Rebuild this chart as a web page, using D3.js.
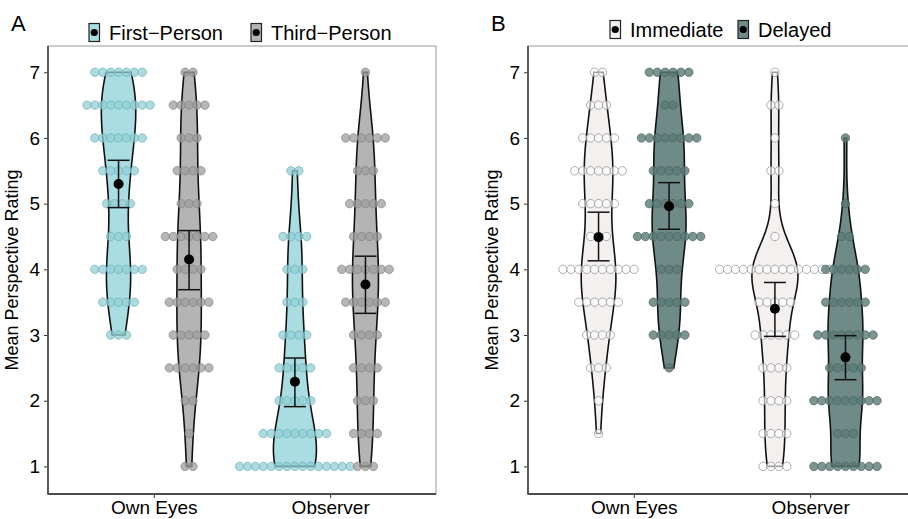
<!DOCTYPE html>
<html>
<head>
<meta charset="utf-8">
<script src="https://cdn.jsdelivr.net/npm/d3@7"></script>
<style>
  body { margin: 0; background: #fff; }
  text { font-family: "Liberation Sans", Arial, Helvetica, sans-serif; fill: #000; }
</style>
</head>
<body>
<svg id="chart" width="908" height="519"></svg>
<script>
// rating levels shared by every group (counts below are per level)
var ratingLevels = [1, 1.5, 2, 2.5, 3, 3.5, 4, 4.5, 5, 5.5, 6, 6.5, 7];
var conditions = ["Own Eyes", "Observer"];
var yTicks = [1, 2, 3, 4, 5, 6, 7];

// panel A : First-Person vs Third-Person
var firstOwnCounts  = [0, 0, 0, 0, 3, 5, 7, 3, 4, 5, 7, 9, 7];
var firstObsCounts  = [15, 9, 5, 5, 4, 3, 3, 4, 0, 2, 0, 0, 0];
var thirdOwnCounts  = [2, 1, 2, 6, 5, 6, 4, 7, 3, 4, 3, 5, 2];
var thirdObsCounts  = [3, 4, 3, 4, 4, 6, 7, 4, 5, 3, 6, 0, 1];
var firstCI = [[4.94, 5.66], [1.91, 2.65]];
var thirdCI = [[3.69, 4.59], [3.33, 4.20]];

// panel B : Immediate vs Delayed
var immOwnCounts = [0, 1, 1, 3, 4, 6, 10, 3, 5, 7, 5, 3, 2];
var immObsCounts = [4, 4, 4, 4, 6, 5, 15, 1, 1, 2, 1, 2, 1];
var delOwnCounts = [0, 0, 0, 1, 5, 5, 3, 9, 6, 5, 8, 2, 6];
var delObsCounts = [9, 3, 9, 5, 8, 6, 6, 2, 1, 0, 1, 0, 0];
var immCI = [[4.13, 4.87], [2.98, 3.80]];
var delCI = [[4.61, 5.32], [2.32, 2.99]];

var svg = d3.select("#chart");

function expand(counts) {
  var v = [];
  counts.forEach(function(c, i) {
    for (var k = 0; k < c; k++) v.push(ratingLevels[i]);
  });
  return v;
}

// gaussian kde, bandwidth like R's nrd0 (times adjust), trimmed to data range
function kde(values, adjust) {
  var s = values.slice().sort(d3.ascending);
  var n = s.length;
  var sd = d3.deviation(s);
  var iqr = d3.quantile(s, 0.75) - d3.quantile(s, 0.25);
  var bw = adjust * 0.9 * Math.min(sd, iqr / 1.34) * Math.pow(n, -0.2);
  var lo = s[0], hi = s[n - 1];
  return d3.range(512).map(function(i) {
    var y = lo + (hi - lo) * i / 511;
    var d = d3.mean(s, function(v) {
      var u = (y - v) / bw;
      return Math.exp(-0.5 * u * u) / Math.sqrt(2 * Math.PI);
    }) / bw;
    return {y: y, d: d};
  });
}

function drawPanel(p) {
  var x = d3.scalePoint().domain(conditions).range([p.left, p.right]).padding(0.6);
  var y = d3.scaleLinear().domain([0.58, 7.4]).range([p.bottom, p.top]);
  var dodge = x.step() * 0.2;
  var g = svg.append("g");

  // build groups
  var groups = [];
  p.series.forEach(function(s, si) {
    s.counts.forEach(function(counts, ci) {
      var vals = expand(counts);
      groups.push({
        series: s, counts: counts, values: vals,
        cx: x(conditions[ci]) + (si === 0 ? -dodge : dodge),
        dens: kde(vals, 0.9), ci: s.ci[ci], mean: d3.mean(vals)
      });
    });
  });
  var maxD = d3.max(groups, function(gr) { return d3.max(gr.dens, function(d) { return d.d; }); });
  var w = d3.scaleLinear().domain([0, maxD]).range([0, p.maxHalf]);

  // frame
  g.append("rect")
    .attr("x", p.left).attr("y", p.top)
    .attr("width", p.right - p.left).attr("height", p.bottom - p.top)
    .attr("fill", "none").attr("stroke", "#9a9a9a").attr("stroke-width", 1);

  // violins
  groups.forEach(function(gr) {
    var area = d3.area()
      .x0(function(d) { return gr.cx - w(d.d); })
      .x1(function(d) { return gr.cx + w(d.d); })
      .y(function(d) { return y(d.y); });
    g.append("path")
      .attr("d", area(gr.dens))
      .attr("fill", gr.series.fill)
      .attr("stroke", "#111").attr("stroke-width", 1.6);
  });

  // dots (centred stacks)
  var spacing = 7.9;
  groups.forEach(function(gr) {
    var pts = [];
    gr.counts.forEach(function(c, i) {
      for (var k = 0; k < c; k++) pts.push({v: ratingLevels[i], off: (k - (c - 1) / 2) * spacing});
    });
    g.append("g").selectAll("circle").data(pts).enter().append("circle")
      .attr("cx", function(d) { return gr.cx + d.off; })
      .attr("cy", function(d) { return y(d.v); })
      .attr("r", 4.2)
      .attr("fill", gr.series.dot)
      .attr("fill-opacity", gr.series.dotAlpha)
      .attr("stroke", gr.series.dotStroke)
      .attr("stroke-opacity", 0.8)
      .attr("stroke-width", 0.9);
  });

  // error bars and means
  groups.forEach(function(gr) {
    var eb = g.append("g").attr("stroke", "#111").attr("stroke-width", 1.5);
    eb.append("line").attr("x1", gr.cx).attr("x2", gr.cx).attr("y1", y(gr.ci[0])).attr("y2", y(gr.ci[1]));
    gr.ci.forEach(function(v) {
      eb.append("line").attr("x1", gr.cx - 11).attr("x2", gr.cx + 11).attr("y1", y(v)).attr("y2", y(v));
    });
    g.append("circle").attr("cx", gr.cx).attr("cy", y(gr.mean)).attr("r", 5).attr("fill", "#000");
  });

  // axes
  var ya = g.append("g").attr("transform", "translate(" + p.left + ",0)")
    .call(d3.axisLeft(y).tickValues(yTicks).tickFormat(d3.format("d")).tickSize(4).tickPadding(4));
  var xa = g.append("g").attr("transform", "translate(0," + p.bottom + ")")
    .call(d3.axisBottom(x).tickSize(4).tickPadding(3));
  [ya, xa].forEach(function(a) {
    a.select(".domain").remove();
    a.selectAll(".tick line").attr("stroke", "#333");
    a.selectAll(".tick text").attr("font-size", 19).attr("font-family", null).style("fill", "#000");
  });
  g.append("line").attr("x1", p.left).attr("x2", p.left).attr("y1", p.top).attr("y2", p.bottom + 0.8)
    .attr("stroke", "#4d4d4d").attr("stroke-width", 1.8);
  g.append("line").attr("x1", p.left).attr("x2", p.right).attr("y1", p.bottom).attr("y2", p.bottom)
    .attr("stroke", "#4d4d4d").attr("stroke-width", 1.8);

  // y title
  g.append("text")
    .attr("transform", "translate(" + (p.left - 30) + "," + ((p.top + p.bottom) / 2) + ") rotate(-90)")
    .attr("text-anchor", "middle").attr("font-size", 18)
    .text("Mean Perspective Rating");

  // panel tag
  g.append("text").attr("x", p.left - 37).attr("y", 31).attr("font-size", 22).text(p.tag);

  // legend
  p.series.forEach(function(s, si) {
    var lg = g.append("g").attr("transform", "translate(" + p.legendX[si] + "," + p.legendY + ")");
    lg.append("rect").attr("x", 0).attr("y", -16.5).attr("width", 10.5).attr("height", 18)
      .attr("fill", s.fill).attr("stroke", "#222").attr("stroke-width", 1.2);
    lg.append("circle").attr("cx", 5.25).attr("cy", -7.5).attr("r", 3.6).attr("fill", "#000");
    lg.append("text").attr("x", 20).attr("y", 0).attr("font-size", 20).text(s.name);
  });
}

drawPanel({
  tag: "A", left: 48, right: 436, top: 46, bottom: 494, maxHalf: 21.5,
  legendX: [89, 251], legendY: 40,
  series: [
    {name: "First\u2212Person", counts: [firstOwnCounts, firstObsCounts], ci: firstCI,
     fill: "#a9dde1", dot: "#92cfd5", dotStroke: "#6fb3ba", dotAlpha: 0.75},
    {name: "Third\u2212Person", counts: [thirdOwnCounts, thirdObsCounts], ci: thirdCI,
     fill: "#b4b4b4", dot: "#9e9e9e", dotStroke: "#858585", dotAlpha: 0.75}
  ]
});

drawPanel({
  tag: "B", left: 528, right: 916, top: 46, bottom: 494, maxHalf: 23,
  legendX: [610, 738], legendY: 37,
  series: [
    {name: "Immediate", counts: [immOwnCounts, immObsCounts], ci: immCI,
     fill: "#f3f0ef", dot: "#ffffff", dotStroke: "#8f8f8f", dotAlpha: 0.6},
    {name: "Delayed", counts: [delOwnCounts, delObsCounts], ci: delCI,
     fill: "#6f8b87", dot: "#5d7b76", dotStroke: "#4b6763", dotAlpha: 0.8}
  ]
});
</script>
</body>
</html>
